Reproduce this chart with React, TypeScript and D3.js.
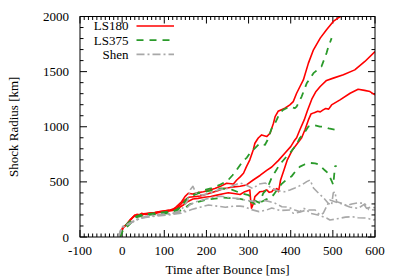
import React from 'react';
import * as d3 from 'd3';

// time after bounce [ms], shock radius [km]
const ls180a = [[-5,0],[1,85],[8,105],[18,150],[30,200],[38,195],[46,215],[56,205],[66,218],[78,222],[90,230],[102,238],[114,245],[122,255],[129,275],[141,320],[149,366],[157,397],[167,390],[177,400],[193,411],[208,427],[220,440],[232,457],[248,487],[264,480],[272,517],[280,545],[288,578],[295,638],[303,700],[311,790],[315,850],[323,898],[331,926],[343,911],[351,941],[359,1032],[363,1092],[370,1140],[378,1155],[386,1168],[398,1198],[406,1228],[414,1304],[422,1365],[430,1425],[442,1577],[454,1698],[470,1804],[485,1880],[501,1955],[512,1985],[525,2015]];
const ls180b = [[-5,0],[1,80],[10,110],[20,160],[30,195],[40,200],[50,210],[62,215],[75,220],[88,228],[100,235],[115,245],[130,262],[140,300],[148,335],[158,360],[170,365],[185,372],[200,388],[215,405],[230,425],[240,440],[250,445],[265,455],[280,460],[295,472],[311,517],[327,558],[343,605],[355,635],[371,695],[386,760],[400,820],[408,870],[414,900],[422,975],[432,1062],[440,1150],[450,1250],[460,1320],[470,1365],[485,1420],[501,1441],[525,1471],[552,1516],[576,1592],[600,1682]];
const ls180c = [[-5,0],[3,90],[12,120],[25,175],[35,205],[45,200],[60,212],[75,208],[90,225],[105,232],[120,240],[135,265],[145,290],[155,320],[168,345],[180,350],[195,360],[210,368],[225,380],[240,392],[252,402],[265,395],[280,385],[291,411],[303,427],[305,330],[307,262],[311,300],[315,366],[327,411],[335,415],[343,427],[349,405],[355,411],[360,435],[363,427],[367,440],[371,411],[376,517],[384,608],[392,700],[404,790],[418,860],[426,900],[434,975],[442,1062],[448,1115],[456,1128],[464,1140],[470,1135],[477,1153],[483,1165],[490,1160],[497,1198],[517,1244],[541,1304],[560,1340],[575,1330],[588,1319],[600,1289]];

const ls375a = [[-5,0],[2,80],[12,110],[22,150],[35,190],[50,205],[70,212],[100,225],[130,240],[145,300],[155,350],[170,380],[190,420],[210,440],[230,470],[250,510],[262,560],[272,610],[287,690],[296,720],[303,760],[311,790],[327,850],[339,835],[345,880],[355,987],[363,1032],[374,1123],[382,1153],[398,1183],[410,1168],[414,1183],[426,1274],[438,1395],[454,1486],[473,1546],[485,1668],[489,1720],[497,1804]];
const ls375b = [[-5,0],[3,85],[12,120],[25,165],[40,195],[60,205],[90,215],[120,230],[140,270],[150,330],[165,380],[185,400],[210,420],[235,440],[260,430],[280,400],[300,380],[315,330],[325,310],[335,397],[343,430],[355,540],[363,590],[371,640],[379,680],[390,729],[398,760],[406,800],[414,840],[422,900],[430,930],[442,1002],[454,1017],[469,1002],[477,1002],[490,985],[509,971]];
const ls375c = [[-5,0],[4,80],[14,100],[24,140],[35,180],[50,195],[75,205],[100,212],[130,222],[145,255],[160,295],[180,318],[200,338],[220,348],[240,358],[260,352],[280,345],[300,330],[315,300],[331,320],[339,336],[351,355],[359,381],[370,440],[378,480],[390,520],[402,550],[414,610],[422,638],[434,660],[446,672],[458,668],[466,660],[481,605],[489,578],[497,510],[501,472],[505,640],[509,645]];

const shenA = [[-9,0],[-1,93],[10,110],[25,140],[40,170],[60,190],[90,205],[120,215],[140,240],[155,330],[162,430],[168,460],[175,400],[190,380],[210,400],[230,430],[250,440],[265,470],[280,490],[295,470],[310,440],[325,480],[340,490],[355,440],[370,420],[385,410],[398,427],[410,445],[426,472],[438,502],[446,517],[454,445],[466,397],[478,355],[489,306],[497,290],[501,400],[505,411],[509,320],[521,306],[533,285],[545,300],[560,310],[572,306],[580,260],[590,270],[600,265]];
const shenB = [[-9,0],[-1,90],[10,105],[25,135],[40,165],[60,185],[90,200],[120,210],[145,230],[160,290],[175,320],[195,340],[215,360],[235,370],[250,360],[270,350],[285,340],[300,330],[320,320],[340,330],[351,320],[363,306],[371,290],[379,275],[395,270],[410,245],[422,230],[430,260],[442,245],[458,245],[469,200],[477,215],[493,336],[505,320],[517,306],[540,272],[560,260],[576,300],[585,250],[600,245]];
const shenC = [[-8,0],[0,85],[15,115],[30,150],[50,175],[80,190],[110,200],[140,215],[165,250],[185,270],[205,290],[225,280],[245,270],[265,280],[280,280],[291,275],[305,250],[325,230],[343,245],[355,263],[375,240],[398,245],[406,215],[420,225],[438,245],[446,215],[465,200],[485,172],[493,154],[510,165],[530,180],[545,184],[560,175],[580,172],[596,154],[600,160]];

const xTicks = [-100, 0, 100, 200, 300, 400, 500, 600];
const yTicks = [0, 500, 1000, 1500, 2000];
const legendNames = ['LS180', 'LS375', 'Shen'];

const RED = '#ff0000';
const GREEN = '#2a9a2a';
const GRAY = '#a8a8a8';
const styles = [
  { stroke: RED, width: 1.6, dash: 'none' },
  { stroke: GREEN, width: 1.8, dash: '7,6' },
  { stroke: GRAY, width: 1.6, dash: '8,3,2,3' },
];

export default function App() {
  const W = 399, H = 279;
  const L = 80, R = 375, T = 16.5, B = 237;
  const x = d3.scaleLinear().domain([-100, 600]).range([L, R]);
  const y = d3.scaleLinear().domain([0, 2000]).range([B, T]);
  const line = d3.line<number[]>().x((d) => x(d[0])).y((d) => y(d[1]));

  const groups = [
    [ls180a, ls180b, ls180c],
    [ls375a, ls375b, ls375c],
    [shenA, shenB, shenC],
  ];

  const xMinor = d3.range(-100, 601, 10);
  const yMinor = d3.range(0, 2001, 100);
  const font = '"Liberation Serif", "Times New Roman", serif';

  return (
    <svg width={W} height={H} style={{ position: 'absolute', left: 0, top: 0, background: '#fff' }}
      fontFamily={font}>
      <defs>
        <clipPath id="plot">
          <rect x={L} y={T} width={R - L} height={B - T} />
        </clipPath>
      </defs>
      <g stroke="#000" strokeWidth={1}>
        {xMinor.map((v) => {
          const len = v % 100 === 0 ? 7 : 3.5;
          return (
            <g key={'x' + v}>
              <line x1={x(v)} x2={x(v)} y1={B} y2={B - len} />
              <line x1={x(v)} x2={x(v)} y1={T} y2={T + len} />
            </g>
          );
        })}
        {yMinor.map((v) => {
          const len = v % 500 === 0 ? 7 : 3.5;
          return (
            <g key={'y' + v}>
              <line x1={L} x2={L + len} y1={y(v)} y2={y(v)} />
              <line x1={R} x2={R - len} y1={y(v)} y2={y(v)} />
            </g>
          );
        })}
      </g>
      <g clipPath="url(#plot)">
        {groups.map((g, gi) =>
          g.map((s, si) => (
            <path key={gi + '-' + si} d={line(s) || ''} fill="none"
              stroke={styles[gi].stroke} strokeWidth={styles[gi].width}
              strokeDasharray={styles[gi].dash} strokeLinejoin="round" />
          ))
        )}
      </g>
      <rect x={L} y={T} width={R - L} height={B - T} fill="none" stroke="#000" strokeWidth={1} />
      <g fontSize={13} fill="#000">
        {xTicks.map((v) => (
          <text key={'xl' + v} x={x(v)} y={255} textAnchor="middle">{v}</text>
        ))}
        {yTicks.map((v) => (
          <text key={'yl' + v} x={69} y={y(v) + 4.5} textAnchor="end">{v}</text>
        ))}
        <text x={(L + R) / 2} y={273.5} textAnchor="middle">Time after Bounce [ms]</text>
        <text transform={`translate(18,${(T + B) / 2}) rotate(-90)`} textAnchor="middle">Shock Radius [km]</text>
      </g>
      <g fontSize={13}>
        {legendNames.map((n, i) => {
          const ly = 26 + i * 14.2;
          return (
            <g key={n}>
              <text x={128.5} y={ly + 4.3} textAnchor="end">{n}</text>
              <line x1={136.5} x2={174} y1={ly} y2={ly} stroke={styles[i].stroke}
                strokeWidth={styles[i].width} strokeDasharray={styles[i].dash} />
            </g>
          );
        })}
      </g>
    </svg>
  );
}
